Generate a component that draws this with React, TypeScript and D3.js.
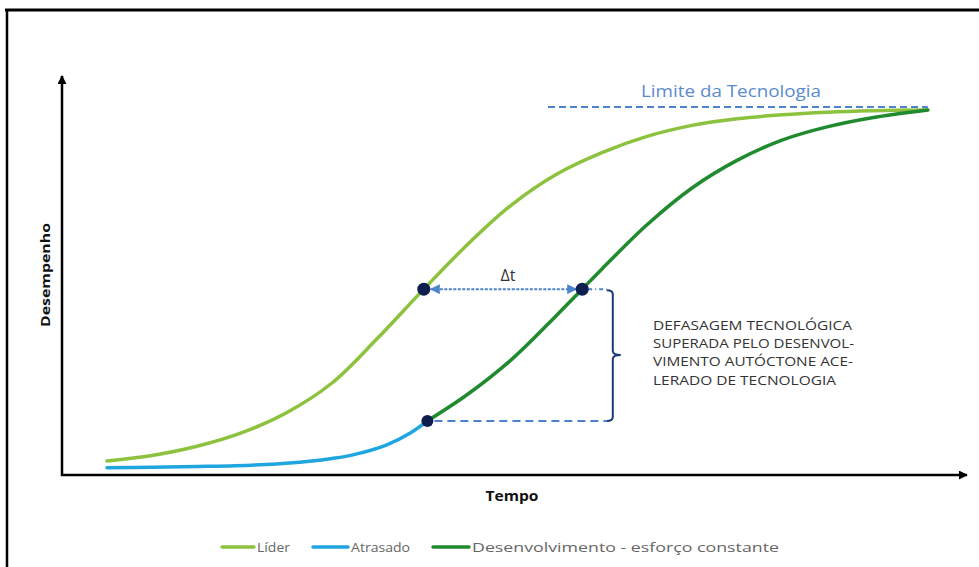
import React from 'react';
import * as d3 from 'd3';

// Time (0–100) and performance (0–100, 100 = technology limit) readings
const TIME_LEADER = [5, 10, 15, 20, 25, 30, 35, 40.2, 45, 50, 55, 60, 65, 70, 75, 80, 85, 90, 96.2];
const PERF_LEADER = [3.8, 5.3, 7.8, 11.5, 17, 25, 37, 50.5, 62.5, 73.5, 81.8, 87.6, 92, 95, 96.8, 97.9, 98.6, 99.0, 99.2];

const TIME_LAGGARD = [5, 10, 15, 19.2, 25.7, 30, 32.2, 36.1, 38.7, 40.6];
const PERF_LAGGARD = [2.0, 2.1, 2.3, 2.5, 3.3, 4.5, 5.4, 8.2, 11.4, 14.7];

const TIME_DEV = [40.6, 45, 50, 55, 57.8, 60, 65, 70, 75, 80, 85, 90, 96.2];
const PERF_DEV = [14.7, 21.8, 31.5, 43.5, 50.5, 56, 68, 78, 85.5, 91, 94.6, 97.1, 99.2];

// Technology limit and the catch-up markers
const LIMIT_PERF = 100;
const LIMIT_FROM = 54;
const LIMIT_TO = 96.2;
const LEAD_POINT = { t: 40.2, p: 50.5 };
const DEV_POINT = { t: 57.8, p: 50.5 };
const SWITCH_POINT = { t: 40.6, p: 14.7 };
const BRACKET_T = 61.2;

const SERIES_NAMES = ['Líder', 'Atrasado', 'Desenvolvimento - esforço constante'];
const NOTE_LINES = [
  'DEFASAGEM TECNOLÓGICA',
  'SUPERADA PELO DESENVOL-',
  'VIMENTO AUTÓCTONE ACE-',
  'LERADO DE TECNOLOGIA',
];

const W = 979;
const H = 567;
const C_LEADER = '#8dc23f';
const C_LAG = '#1fa6e0';
const C_DEV = '#1f8a2e';
const C_DOT = '#0e1f4f';
const C_BLUE = '#4d83cc';
const C_NAVY = '#1d3a78';
const FONT = "'Open Sans', 'Noto Sans', sans-serif";

const x = d3.scaleLinear().domain([0, 100]).range([62, 962]);
const y = d3.scaleLinear().domain([0, 100]).range([475, 107]);

const line = d3
  .line<[number, number]>()
  .x((d) => x(d[0]))
  .y((d) => y(d[1]))
  .curve(d3.curveCatmullRom.alpha(0.5));

const zip = (ts: number[], ps: number[]) => ts.map((t, i) => [t, ps[i]] as [number, number]);

export default function App() {
  const yMid = y(LEAD_POINT.p);
  const ySwitch = y(SWITCH_POINT.p);
  const xB = x(BRACKET_T);
  const yMidBracket = (yMid + ySwitch) / 2;
  const legendY = 547;
  const legend = [
    { name: SERIES_NAMES[0], color: C_LEADER, x0: 222, x1: 254, w: 33 },
    { name: SERIES_NAMES[1], color: C_LAG, x0: 313, x1: 348, w: 59 },
    { name: SERIES_NAMES[2], color: C_DEV, x0: 433, x1: 469, w: 307 },
  ];
  const noteWidths = [199, 201, 200, 183];

  return (
    <svg
      width={W}
      height={H}
      style={{ position: 'absolute', left: 0, top: 0, background: '#fff' }}
      fontFamily={FONT}
    >
      <defs>
        <marker id="arrAxis" viewBox="0 0 10 10" refX="9" refY="5" markerWidth="9" markerHeight="9" markerUnits="userSpaceOnUse" orient="auto">
          <path d="M0,0 L10,5 L0,10 z" fill="#000" />
        </marker>
        <marker id="arrBlue" viewBox="0 0 10 10" refX="9" refY="5" markerWidth="10" markerHeight="10" markerUnits="userSpaceOnUse" orient="auto-start-reverse">
          <path d="M0,0 L10,5 L0,10 z" fill={C_BLUE} />
        </marker>
      </defs>

      {/* outer frame */}
      <line x1={5} x2={W} y1={10} y2={10} stroke="#000" strokeWidth={3} />
      <line x1={7} x2={7} y1={9} y2={H} stroke="#000" strokeWidth={2.5} />

      {/* axes */}
      <line x1={x(0)} x2={x(0)} y1={y(0) + 1} y2={76} stroke="#000" strokeWidth={2.5} markerEnd="url(#arrAxis)" />
      <line x1={x(0) - 1} x2={967} y1={y(0)} y2={y(0)} stroke="#000" strokeWidth={2.5} markerEnd="url(#arrAxis)" />
      <text
        transform={`translate(50,275) rotate(-90)`}
        textAnchor="middle"
        fontWeight="bold"
        fontSize={13}
        fill="#111"
        textLength={104}
        lengthAdjust="spacingAndGlyphs"
      >
        Desempenho
      </text>
      <text x={512} y={501} textAnchor="middle" fontWeight="bold" fontSize={14} fill="#111" textLength={53} lengthAdjust="spacingAndGlyphs">
        Tempo
      </text>

      {/* technology limit */}
      <line x1={x(LIMIT_FROM)} x2={x(LIMIT_TO)} y1={y(LIMIT_PERF)} y2={y(LIMIT_PERF)} stroke={C_BLUE} strokeWidth={2} strokeDasharray="7 4" />
      <text x={731} y={97} textAnchor="middle" fontSize={17} fill="#5a8ad0" textLength={180} lengthAdjust="spacingAndGlyphs">
        Limite da Tecnologia
      </text>

      {/* curves */}
      <path d={line(zip(TIME_LEADER, PERF_LEADER)) || ''} fill="none" stroke={C_LEADER} strokeWidth={3.5} strokeLinecap="round" />
      <path d={line(zip(TIME_LAGGARD, PERF_LAGGARD)) || ''} fill="none" stroke={C_LAG} strokeWidth={3.5} strokeLinecap="round" />
      <path d={line(zip(TIME_DEV, PERF_DEV)) || ''} fill="none" stroke={C_DEV} strokeWidth={3.5} strokeLinecap="round" />

      {/* Δt arrow */}
      <line x1={x(DEV_POINT.t) + 6} x2={xB - 6} y1={yMid} y2={yMid} stroke={C_BLUE} strokeWidth={2} strokeDasharray="4 3 1 3" />
      <line
        x1={x(LEAD_POINT.t) + 7}
        x2={x(DEV_POINT.t) - 6}
        y1={yMid}
        y2={yMid}
        stroke={C_BLUE}
        strokeWidth={2}
        strokeDasharray="3 1.5"
        markerStart="url(#arrBlue)"
        markerEnd="url(#arrBlue)"
      />
      <text x={508} y={281} textAnchor="middle" fontSize={16} fill="#333">
        Δt
      </text>

      {/* gap line at the switch point */}
      <line x1={x(SWITCH_POINT.t) + 7} x2={xB - 6} y1={ySwitch} y2={ySwitch} stroke={C_BLUE} strokeWidth={2} strokeDasharray="8 5" />

      {/* bracket */}
      <path
        d={`M${xB - 6},${yMid + 1} Q${xB},${yMid + 1} ${xB},${yMid + 5} L${xB},${yMidBracket - 4} Q${xB},${yMidBracket} ${xB + 8},${yMidBracket} Q${xB},${yMidBracket} ${xB},${yMidBracket + 4} L${xB},${ySwitch - 4} Q${xB},${ySwitch} ${xB - 6},${ySwitch}`}
        fill="none"
        stroke={C_NAVY}
        strokeWidth={2}
      />

      {/* markers */}
      <circle cx={x(LEAD_POINT.t)} cy={yMid} r={6.5} fill={C_DOT} />
      <circle cx={x(DEV_POINT.t)} cy={yMid} r={6.5} fill={C_DOT} />
      <circle cx={x(SWITCH_POINT.t)} cy={ySwitch} r={6} fill={C_DOT} />

      {/* note */}
      {NOTE_LINES.map((t, i) => (
        <text key={t} x={653} y={330 + i * 18.2} fontSize={13} fill="#333" textLength={noteWidths[i]} lengthAdjust="spacingAndGlyphs">
          {t}
        </text>
      ))}

      {/* legend */}
      {legend.map((l) => (
        <g key={l.name}>
          <line x1={l.x0} x2={l.x1} y1={legendY} y2={legendY} stroke={l.color} strokeWidth={3.5} strokeLinecap="round" />
          <text x={l.x1 + 3} y={legendY + 5} fontSize={13.5} fill="#666" textLength={l.w} lengthAdjust="spacingAndGlyphs">
            {l.name}
          </text>
        </g>
      ))}
    </svg>
  );
}
